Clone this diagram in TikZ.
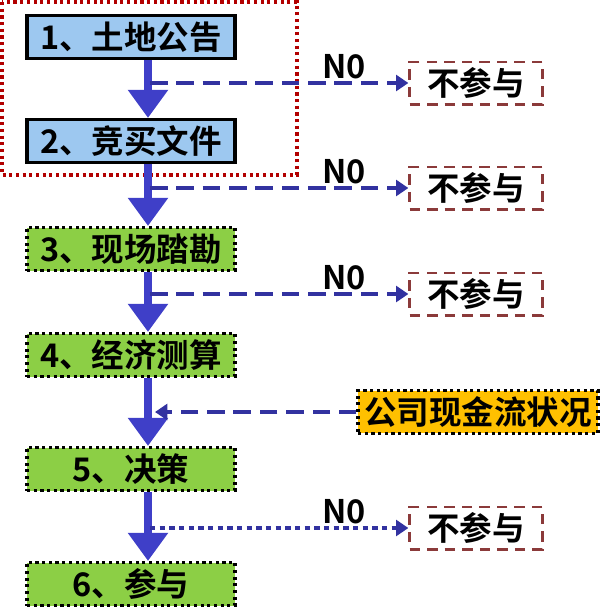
\documentclass[tikz,border=0pt]{standalone}
\usepackage{fontspec}
\setmainfont{Noto Sans CJK SC}[BoldFont={Noto Sans CJK SC Bold}]
\usetikzlibrary{arrows.meta,positioning}
\definecolor{stepblue}{HTML}{9DC8F0}
\definecolor{stepgreen}{HTML}{8CCF45}
\definecolor{cashorange}{HTML}{FFC000}
\definecolor{arrowblue}{HTML}{3F3FC8}
\definecolor{darkred}{HTML}{8B3A3A}
\begin{document}
\begin{tikzpicture}[x=0.02cm, y=-0.02cm, font=\bfseries\fontsize{18.5}{21}\selectfont]

        % Styles
        \tikzset{
          bluebox/.style={rectangle, draw=black, line width=1.8pt, fill=stepblue, minimum width=4.16cm, minimum height=0.86cm},
          greenbox/.style={rectangle, draw=black, line width=1.8pt, dotted, fill=stepgreen, minimum width=4.16cm, minimum height=0.86cm},
          skipbox/.style={rectangle, draw=darkred, line width=1.3pt, dash pattern=on 6pt off 4pt, minimum width=2.66cm, minimum height=0.8cm},
          cashbox/.style={rectangle, draw=black, line width=1.8pt, dotted, fill=cashorange, minimum width=4.8cm, minimum height=0.82cm},
          mainarrow/.style={draw=arrowblue, line width=5pt, -{Triangle[length=16pt,width=22pt]}},
          sidearrow/.style={draw=arrowblue!80!black, line width=2.5pt, dash pattern=on 10pt off 5pt, -{Triangle[length=7pt,width=9pt]}}
        }
        \useasboundingbox (0,0) rectangle (600,610);

        % Red frame
        \draw[red!70!black, line width=1.8pt, dotted] (2,2) rectangle (297,175);

        % Steps
        \node[bluebox] (s1) at (131,37) {1、土地公告};
        \node[bluebox] (s2) at (131,141) {2、竞买文件};
        \node[greenbox] (s3) at (131,249) {3、现场踏勘};
        \node[greenbox] (s4) at (131,355) {4、经济测算};
        \node[greenbox] (s5) at (131,469) {5、决策};
        \node[greenbox] (s6) at (131,584) {6、参与};

        % Side boxes
        \node[skipbox] (n1) at (476,83) {不参与};
        \node[skipbox] (n2) at (476,188) {不参与};
        \node[skipbox] (n3) at (476,294) {不参与};
        \node[skipbox] (n5) at (476,528) {不参与};
        \node[cashbox] (cash) at (478,412) {公司现金流状况};

        % Branch points
        \coordinate (b1) at (150,0 |- n1);
        \coordinate (b2) at (150,0 |- n2);
        \coordinate (b3) at (150,0 |- n3);
        \coordinate (b5) at (150,0 |- n5);
        \coordinate (c4) at (155,0 |- cash);

        % Main flow
        \foreach \a/\b in {s1/s2, s2/s3, s3/s4, s4/s5, s5/s6}
          \draw[mainarrow] (\a.south -| 148,0) -- (\b.north -| 148,0);

        % Side arrows
        \foreach \p/\q in {b1/n1, b2/n2, b3/n3}
          \draw[sidearrow] (\p) -- node[above, pos=0.75, yshift=-2pt] {N0} (\q);
        \draw[sidearrow, dash pattern=on 3pt off 2.5pt] (b5) -- node[above, pos=0.75, yshift=-2pt] {N0} (n5);
        \draw[sidearrow] (cash) -- (c4);

    \end{tikzpicture}
\end{document}
